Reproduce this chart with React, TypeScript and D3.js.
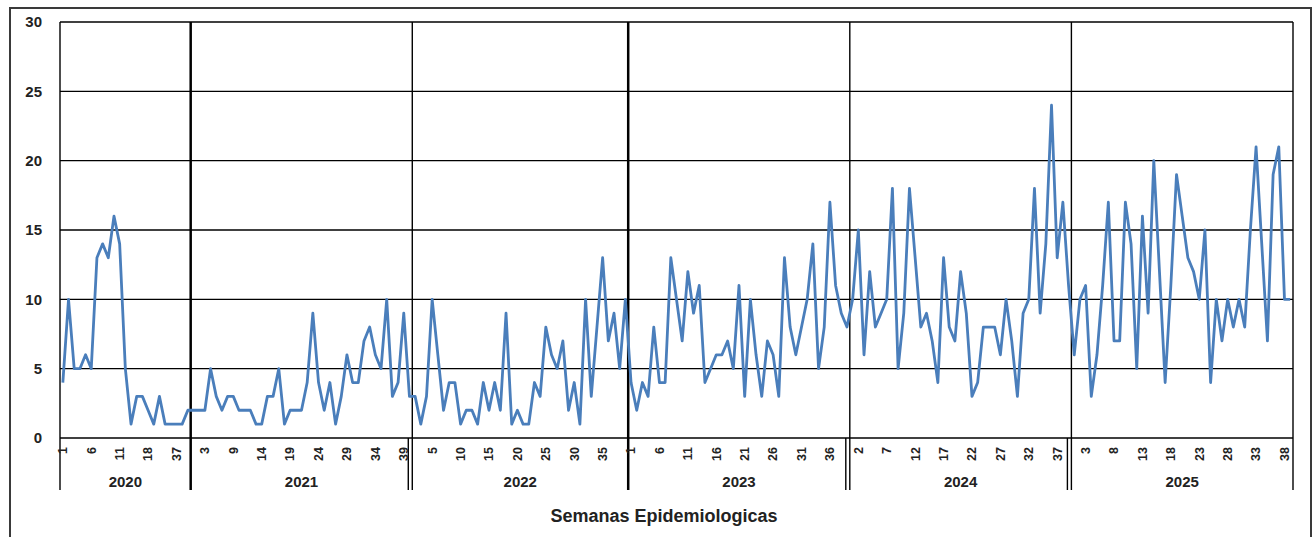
import React, { useEffect, useRef } from "react";
import * as d3 from "d3";

// categories: year groups and epidemiological weeks
const years = ["2020", "2021", "2022", "2023", "2024", "2025"];

const weeks2020 = [1, 2, 3, 4, 5, 6, 7, 8, 9, 10, 11, 12, 13, 15, 17, 18, 22, 27, 31, 35, 37, 38, 39];
const weeks2021 = [1, 2, 3, 4, 6, 7, 8, 9, 10, 11, 12, 13, 14, 15, 16, 17, 18, 19, 20, 21, 22, 23, 24, 25, 26, 27, 28, 29, 30, 31, 32, 33, 34, 35, 36, 37, 38, 39, 40];
const weeks2022 = [1, 2, 4, 5, 6, 7, 8, 9, 10, 11, 12, 13, 14, 15, 16, 17, 18, 19, 20, 21, 22, 23, 24, 25, 26, 27, 28, 29, 30, 31, 32, 33, 34, 35, 36, 37, 38, 39];
const weeks2023 = d3.range(1, 40);
const weeks2024 = d3.range(1, 40);
const weeks2025 = d3.range(1, 40);

// cases per week
const cases2020 = [4, 10, 5, 5, 6, 5, 13, 14, 13, 16, 14, 5, 1, 3, 3, 2, 1, 3, 1, 1, 1, 1, 2];
const cases2021 = [2, 2, 2, 5, 3, 2, 3, 3, 2, 2, 2, 1, 1, 3, 3, 5, 1, 2, 2, 2, 4, 9, 4, 2, 4, 1, 3, 6, 4, 4, 7, 8, 6, 5, 10, 3, 4, 9, 3];
const cases2022 = [3, 1, 3, 10, 6, 2, 4, 4, 1, 2, 2, 1, 4, 2, 4, 2, 9, 1, 2, 1, 1, 4, 3, 8, 6, 5, 7, 2, 4, 1, 10, 3, 8, 13, 7, 9, 5, 10];
const cases2023 = [4, 2, 4, 3, 8, 4, 4, 13, 10, 7, 12, 9, 11, 4, 5, 6, 6, 7, 5, 11, 3, 10, 6, 3, 7, 6, 3, 13, 8, 6, 8, 10, 14, 5, 8, 17, 11, 9, 8];
const cases2024 = [10, 15, 6, 12, 8, 9, 10, 18, 5, 9, 18, 13, 8, 9, 7, 4, 13, 8, 7, 12, 9, 3, 4, 8, 8, 8, 6, 10, 7, 3, 9, 10, 18, 9, 14, 24, 13, 17, 11];
const cases2025 = [6, 10, 11, 3, 6, 11, 17, 7, 7, 17, 14, 5, 16, 9, 20, 12, 4, 11, 19, 16, 13, 12, 10, 15, 4, 10, 7, 10, 8, 10, 8, 15, 21, 14, 7, 19, 21, 10, 10];

const weeksByYear = [weeks2020, weeks2021, weeks2022, weeks2023, weeks2024, weeks2025];
const casesByYear = [cases2020, cases2021, cases2022, cases2023, cases2024, cases2025];

const yTicks = [0, 5, 10, 15, 20, 25, 30];
const labelEvery = 5;
const xTitle = "Semanas Epidemiologicas";

const FONT = "'Liberation Sans', Arial, sans-serif";

export default function App() {
  const svgRef = useRef<SVGSVGElement>(null);

  useEffect(() => {
    const width = 1315;
    const height = 537;
    const left = 60, right = 1293, top = 22, bottom = 438;

    const rows: { idx: number; year: string; week: number; value: number }[] = [];
    const groups: { year: string; start: number; end: number }[] = [];
    years.forEach((yr, gi) => {
      const start = rows.length;
      weeksByYear[gi].forEach((w, j) => {
        rows.push({ idx: rows.length, year: yr, week: w, value: casesByYear[gi][j] });
      });
      groups.push({ year: yr, start, end: rows.length });
    });

    const svg = d3.select(svgRef.current);
    svg.selectAll("*").remove();
    svg.attr("width", width).attr("height", height);

    const x = d3
      .scaleBand<number>()
      .domain(rows.map((d) => d.idx))
      .range([left, right])
      .padding(0);
    const bw = x.bandwidth();
    const edge = (i: number) => left + i * bw;

    const y = d3.scaleLinear().domain([0, 30]).range([bottom, top]);

    // outer chart border
    svg
      .append("rect")
      .attr("x", 10)
      .attr("y", 8)
      .attr("width", 1301)
      .attr("height", 620)
      .attr("fill", "#fff")
      .attr("stroke", "#3a3a3a")
      .attr("stroke-width", 2);

    // horizontal grid
    svg
      .append("g")
      .selectAll("line")
      .data(yTicks)
      .join("line")
      .attr("x1", left)
      .attr("x2", right)
      .attr("y1", (d) => y(d))
      .attr("y2", (d) => y(d))
      .attr("stroke", "#000")
      .attr("stroke-width", 1.3);

    // y labels
    svg
      .append("g")
      .selectAll("text")
      .data(yTicks)
      .join("text")
      .attr("x", 42)
      .attr("y", (d) => y(d))
      .attr("dy", "0.36em")
      .attr("text-anchor", "end")
      .style("font-family", FONT)
      .style("font-size", "15px")
      .style("font-weight", "bold")
      .attr("fill", "#222")
      .text((d) => d);

    // vertical separators (plot + category area)
    const seps = [0, ...groups.map((g) => g.end)];
    const doubleSep = (k: number) => k === 2 || k === 4 || k === 5;
    seps.forEach((s, k) => {
      const sx = edge(s);
      svg
        .append("line")
        .attr("x1", sx)
        .attr("x2", sx)
        .attr("y1", top)
        .attr("y2", 490)
        .attr("stroke", "#000")
        .attr("stroke-width", k === 1 || k === 3 ? 2.5 : 1.4);
      if (doubleSep(k)) {
        svg
          .append("line")
          .attr("x1", sx - 4)
          .attr("x2", sx - 4)
          .attr("y1", bottom)
          .attr("y2", 490)
          .attr("stroke", "#000")
          .attr("stroke-width", 1.4);
      }
    });

    // week labels
    svg
      .append("g")
      .selectAll("text")
      .data(rows.filter((d) => d.idx % labelEvery === 0))
      .join("text")
      .attr("transform", (d) => `translate(${(x(d.idx) as number) + bw / 2},447) rotate(-90)`)
      .attr("dy", "0.35em")
      .attr("text-anchor", "end")
      .style("font-family", FONT)
      .style("font-size", "12.5px")
      .style("font-weight", "bold")
      .attr("fill", "#222")
      .text((d) => d.week);

    // year labels
    svg
      .append("g")
      .selectAll("text")
      .data(groups)
      .join("text")
      .attr("x", (g) => (edge(g.start) + edge(g.end)) / 2)
      .attr("y", 487)
      .attr("text-anchor", "middle")
      .style("font-family", FONT)
      .style("font-size", "15px")
      .style("font-weight", "bold")
      .attr("fill", "#222")
      .text((g) => g.year);

    // axis title
    svg
      .append("text")
      .attr("x", 664)
      .attr("y", 522)
      .attr("text-anchor", "middle")
      .style("font-family", FONT)
      .style("font-size", "18px")
      .style("font-weight", "bold")
      .attr("fill", "#222")
      .text(xTitle);

    // series line
    const line = d3
      .line<{ idx: number; value: number }>()
      .x((d) => (x(d.idx) as number) + bw / 2)
      .y((d) => y(d.value));

    svg
      .append("path")
      .datum(rows)
      .attr("d", line)
      .attr("fill", "none")
      .attr("stroke", "#4a7ebb")
      .attr("stroke-width", 2.8)
      .attr("stroke-linejoin", "round");
  }, []);

  return (
    <svg
      ref={svgRef}
      style={{ position: "absolute", left: 0, top: 0, background: "#fff" }}
    ></svg>
  );
}
